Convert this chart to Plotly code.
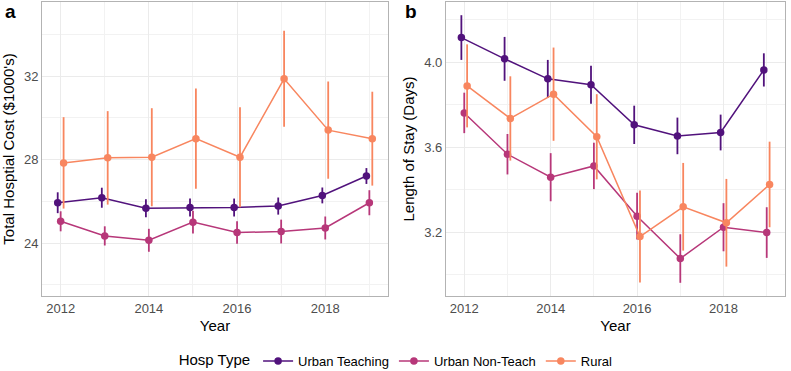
import plotly.graph_objects as go

years = [2012, 2013, 2014, 2015, 2016, 2017, 2018, 2019]
groups = ["Urban Teaching", "Urban Non-Teach", "Rural"]
colors = ["#51127C", "#B73779", "#F8865F"]
dodge = [-0.0667, 0.0, 0.0667]

cost_teach = [25.93, 26.17, 25.67, 25.70, 25.70, 25.77, 26.28, 27.21]
cost_teach_err = [0.50, 0.48, 0.43, 0.43, 0.43, 0.41, 0.38, 0.38]
cost_nonteach = [25.04, 24.34, 24.13, 25.00, 24.50, 24.55, 24.72, 25.93]
cost_nonteach_err = [0.48, 0.46, 0.55, 0.55, 0.54, 0.57, 0.55, 0.60]
cost_rural = [27.84, 28.08, 28.11, 29.00, 28.11, 31.87, 29.41, 29.00]
cost_rural_err = [2.19, 2.24, 2.35, 2.40, 2.40, 2.30, 2.33, 2.25]

los_teach = [4.115, 4.015, 3.921, 3.893, 3.705, 3.653, 3.669, 3.963]
los_teach_err = [0.105, 0.103, 0.089, 0.089, 0.090, 0.086, 0.084, 0.078]
los_nonteach = [3.761, 3.567, 3.459, 3.512, 3.276, 3.077, 3.224, 3.199]
los_nonteach_err = [0.095, 0.095, 0.113, 0.109, 0.110, 0.114, 0.113, 0.119]
los_rural = [3.888, 3.735, 3.849, 3.649, 3.180, 3.320, 3.245, 3.425]
los_rural_err = [0.195, 0.198, 0.219, 0.200, 0.216, 0.206, 0.206, 0.201]

cost = [cost_teach, cost_nonteach, cost_rural]
cost_err = [cost_teach_err, cost_nonteach_err, cost_rural_err]
los = [los_teach, los_nonteach, los_rural]
los_err = [los_teach_err, los_nonteach_err, los_rural_err]

fig = go.Figure()
for i, g in enumerate(groups):
    xs = [y + dodge[i] for y in years]
    fig.add_trace(go.Scatter(
        x=xs, y=cost[i], mode="lines+markers", name=g, legendgroup=g,
        line=dict(color=colors[i], width=1.5),
        marker=dict(color=colors[i], size=7.5),
        error_y=dict(type="data", array=cost_err[i], width=0, thickness=1.8, color=colors[i]),
        xaxis="x", yaxis="y", showlegend=True))
    fig.add_trace(go.Scatter(
        x=xs, y=los[i], mode="lines+markers", name=g, legendgroup=g,
        line=dict(color=colors[i], width=1.5),
        marker=dict(color=colors[i], size=7.5),
        error_y=dict(type="data", array=los_err[i], width=0, thickness=1.8, color=colors[i]),
        xaxis="x2", yaxis="y2", showlegend=False))

grid = "#EBEBEB"
border = "#B3B3B3"
tickfont = dict(family="Liberation Sans, Arial, sans-serif", size=13, color="#4D4D4D")
titlefont = dict(family="Liberation Sans, Arial, sans-serif", size=15, color="#000000")

def xax(domain, anchor):
    return dict(domain=domain, anchor=anchor, range=[2011.577, 2019.423], automargin=False,
                tick0=2012, dtick=2, showgrid=True, gridcolor=grid, gridwidth=1,
                minor=dict(dtick=1, tick0=2012, showgrid=True, gridcolor="#F2F2F2", gridwidth=0.7),
                zeroline=False, showline=True, linecolor=border, mirror=True, linewidth=1,
                ticks="", tickfont=tickfont,
                title=dict(text="Year", font=titlefont, standoff=5))

def yax(anchor, rng, tick0, dtick, title):
    return dict(domain=[0, 1], anchor=anchor, range=rng, tick0=tick0, dtick=dtick, automargin=False,
                tickformat=".1f" if dtick < 1 else "d",
                showgrid=True, gridcolor=grid, gridwidth=1,
                minor=dict(dtick=dtick / 2, tick0=tick0, showgrid=True, gridcolor="#F2F2F2", gridwidth=0.7),
                zeroline=False, showline=True, linecolor=border, mirror=True, linewidth=1,
                ticks="", tickfont=tickfont,
                title=dict(text=title, font=titlefont, standoff=6))

fig.update_layout(
    width=791, height=371,
    margin=dict(l=42, r=6, t=2, b=75, autoexpand=False),
    paper_bgcolor="white", plot_bgcolor="white",
    font=dict(family="Liberation Sans, Arial, sans-serif"),
    xaxis=xax([0, 0.4657], "y"),
    yaxis=yax("x", [21.46, 35.55], 24, 4, "Total Hosptial Cost ($1000's)"),
    xaxis2=xax([0.5437, 1.0], "y2"),
    yaxis2=yax("x2", [2.901, 4.282], 3.2, 0.4, "Length of Stay (Days)"),
    legend=dict(orientation="h", x=0.478, xanchor="center", y=-0.221, yanchor="middle",
                title=dict(text="Hosp Type", font=dict(size=15, color="#000000")),
                font=dict(size=13, color="#000000"), itemwidth=30, tracegroupgap=0),
    annotations=[
        dict(text="<b>a</b>", x=0, y=0, xref="paper", yref="paper", showarrow=False,
             font=dict(size=19, color="black"), xanchor="left", yanchor="middle"),
        dict(text="<b>b</b>", x=0, y=0, xref="paper", yref="paper", showarrow=False,
             font=dict(size=19, color="black"), xanchor="left", yanchor="middle"),
    ],
)

W = 791 - 42 - 6
H = 371 - 2 - 75
def px(xp):
    return (xp - 42) / W
def py(yp):
    return (371 - 75 - yp) / H
fig.layout.annotations[0].update(x=px(3), y=py(11))
fig.layout.annotations[1].update(x=px(403), y=py(11))

fig.write_html("out.html", config={"displayModeBar": False},
               post_script="document.body.style.margin='0';document.body.style.overflow='hidden';")
